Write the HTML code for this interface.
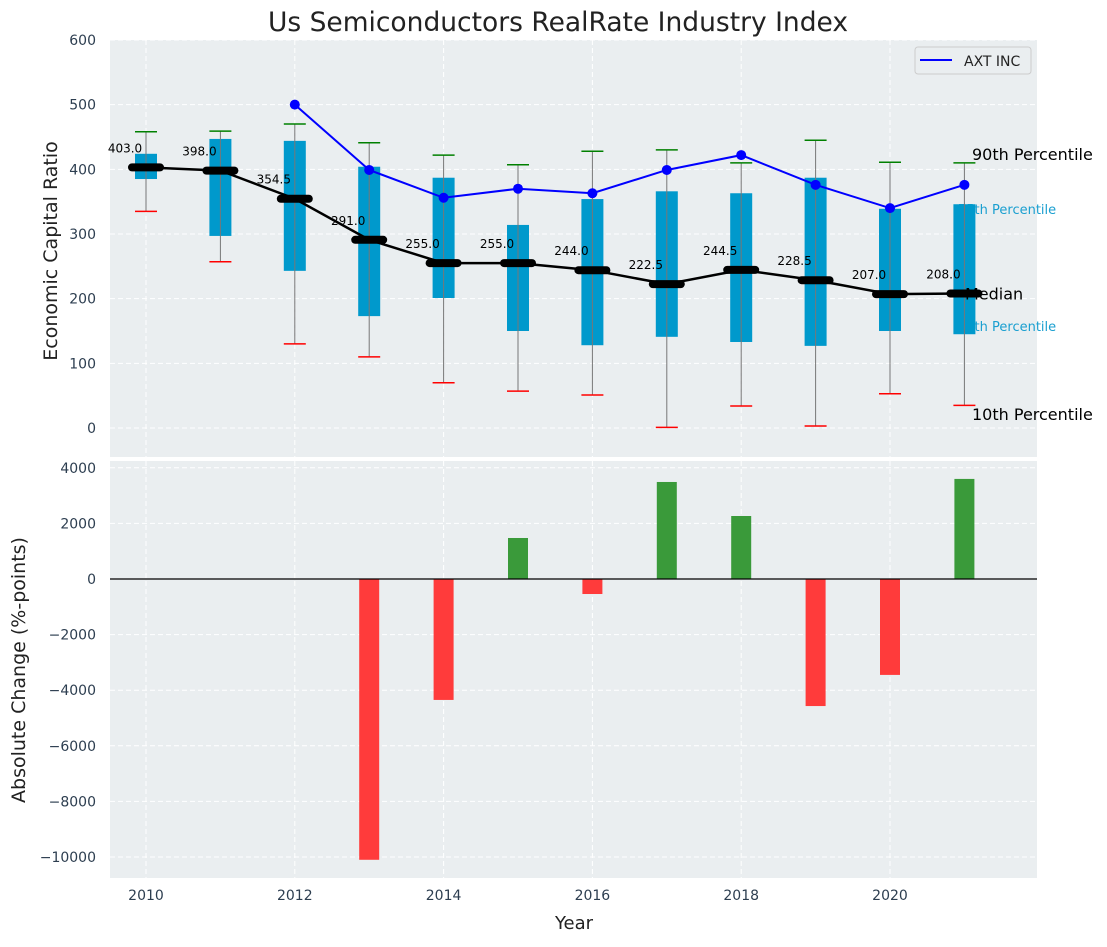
<!DOCTYPE html>
<html><head><meta charset="utf-8"><style>
body{margin:0;background:#fff;font-family:"Liberation Sans","DejaVu Sans",sans-serif}
svg text{font-family:"DejaVu Sans","Liberation Sans",sans-serif}
</style></head><body>
<svg id="c" width="1107" height="942" xmlns="http://www.w3.org/2000/svg"></svg>
<script>
const years=[2010,2011,2012,2013,2014,2015,2016,2017,2018,2019,2020,2021];
const p10=[335,257,130,110,70,57,51,1,34,3,53,35];
const q1=[385,297,243,173,201,150,128,141,133,127,150,145];
const median=[403.0,398.0,354.5,291.0,255.0,255.0,244.0,222.5,244.5,228.5,207.0,208.0];
const q3=[424,447,444,404,387,314,354,366,363,387,339,346];
const p90=[458,459,470,441,422,407,428,430,410,445,411,410];
const axtYears=[2012,2013,2014,2015,2016,2017,2018,2019,2020,2021];
const axt=[500,399,356,370,363,399,422,376,340,376];
const chgYears=[2013,2014,2015,2016,2017,2018,2019,2020,2021];
const change=[-10100,-4350,1475,-540,3490,2266,-4570,-3450,3600];
const topTicks=[0,100,200,300,400,500,600];
const botTicks=[-10000,-8000,-6000,-4000,-2000,0,2000,4000];
const xTicks=[2010,2012,2014,2016,2018,2020];

const svg=document.getElementById('c');const NS='http://www.w3.org/2000/svg';
function el(t,a,txt){const e=document.createElementNS(NS,t);for(const k in a)e.setAttribute(k,a[k]);if(txt!==undefined)e.textContent=txt;svg.appendChild(e);return e;}
const X=y=>146+(y-2010)*74.4;
const YT=v=>428-v*0.6467;
const YB=v=>579-v*0.0278;
const L=110,R=1037;
let e;
e=el('rect',{x:L,y:40,width:R-L,height:417,fill:'#eaeef0'});


e=el('rect',{x:L,y:461,width:R-L,height:417,fill:'#eaeef0'});


topTicks.forEach(v=>{el('line',{x1:L,x2:R,y1:YT(v),y2:YT(v),stroke:'#fff','stroke-dasharray':'5,3','stroke-width':1});
 e=el('text',{x:96,y:YT(v)+5,'text-anchor':'end','font-size':14,fill:'#2d3e50'},v);
 
 });
botTicks.forEach(v=>{el('line',{x1:L,x2:R,y1:YB(v),y2:YB(v),stroke:'#fff','stroke-dasharray':'5,3','stroke-width':1});
 e=el('text',{x:96,y:YB(v)+5,'text-anchor':'end','font-size':14,fill:'#2d3e50'},v<0?'\u2212'+(-v):v);
 
 });
xTicks.forEach(y=>{[[40,457],[461,878]].forEach(r=>el('line',{x1:X(y),x2:X(y),y1:r[0],y2:r[1],stroke:'#fff','stroke-dasharray':'5,3'}));
 e=el('text',{x:X(y),y:900,'text-anchor':'middle','font-size':14,fill:'#2d3e50'},y);
 
 });
const last=years.length-1;
e=el('text',{x:958,y:214,'font-size':13,fill:'#1a9fd0'},'75th Percentile');


e=el('text',{x:958,y:331,'font-size':13,fill:'#1a9fd0'},'25th Percentile');


years.forEach((y,i)=>{const cx=X(y);
 e=el('rect',{x:cx-11,y:YT(q3[i]),width:22,height:YT(q1[i])-YT(q3[i]),fill:'#0099cc'});
 
 
 e=el('line',{x1:cx,x2:cx,y1:YT(p90[i]),y2:YT(p10[i]),stroke:'#777','stroke-width':1});
 
 
 e=el('line',{x1:cx-11,x2:cx+11,y1:YT(p90[i]),y2:YT(p90[i]),stroke:'green','stroke-width':1.5});
 
 
 e=el('line',{x1:cx-11,x2:cx+11,y1:YT(p10[i]),y2:YT(p10[i]),stroke:'red','stroke-width':1.5});
 
 
});
e=el('polyline',{points:axtYears.map((y,i)=>X(y)+','+YT(axt[i])).join(' '),fill:'none',stroke:'blue','stroke-width':2});


axtYears.forEach((y,i)=>{e=el('circle',{cx:X(y),cy:YT(axt[i]),r:5,fill:'blue'});
 
 });
e=el('polyline',{points:years.map((y,i)=>X(y)+','+YT(median[i])).join(' '),fill:'none',stroke:'#000','stroke-width':2.5});


e=el('text',{x:965,y:YT(median[last])+6,'font-size':16,fill:'#000'},'Median');


years.forEach((y,i)=>{const cx=X(y);
 e=el('line',{x1:cx-14,x2:cx+14,y1:YT(median[i]),y2:YT(median[i]),stroke:'#000','stroke-width':8,'stroke-linecap':'round'});
 
 
 e=el('text',{x:cx-21,y:YT(median[i])-15,'text-anchor':'middle','font-size':12,fill:'#000'},median[i].toFixed(1));
 
 
});
e=el('text',{x:972,y:160,'font-size':16,fill:'#000'},'90th Percentile');


e=el('text',{x:972,y:420,'font-size':16,fill:'#000'},'10th Percentile');


e=el('rect',{x:915,y:47,width:116,height:27,rx:3,fill:'#eaeef0',stroke:'#ccc'});


e=el('line',{x1:920,x2:952,y1:60,y2:60,stroke:'blue','stroke-width':2});


e=el('text',{x:964,y:66,'font-size':14,fill:'#222'},'AXT INC');


chgYears.forEach((y,i)=>{const v=change[i];const y0=YB(0),y1=YB(v);
 e=el('rect',{x:X(y)-10,y:Math.min(y0,y1),width:20,height:Math.abs(y1-y0),fill:v>=0?'#3a9a3a':'#ff3b3b'});
 
 });
e=el('line',{x1:L,x2:R,y1:YB(0),y2:YB(0),stroke:'#000','stroke-width':1.2});


e=el('text',{x:558,y:31,'text-anchor':'middle','font-size':26.5,fill:'#222'},'Us Semiconductors RealRate Industry Index');


e=el('text',{x:0,y:0,'text-anchor':'middle','font-size':19,fill:'#222',transform:'translate(57,251) rotate(-90)'},'Economic Capital Ratio');


e=el('text',{x:0,y:0,'text-anchor':'middle','font-size':19,fill:'#222',transform:'translate(25,670) rotate(-90)'},'Absolute Change (%-points)');


e=el('text',{x:574,y:929,'text-anchor':'middle','font-size':18,fill:'#222'},'Year');


</script>
</body></html>
